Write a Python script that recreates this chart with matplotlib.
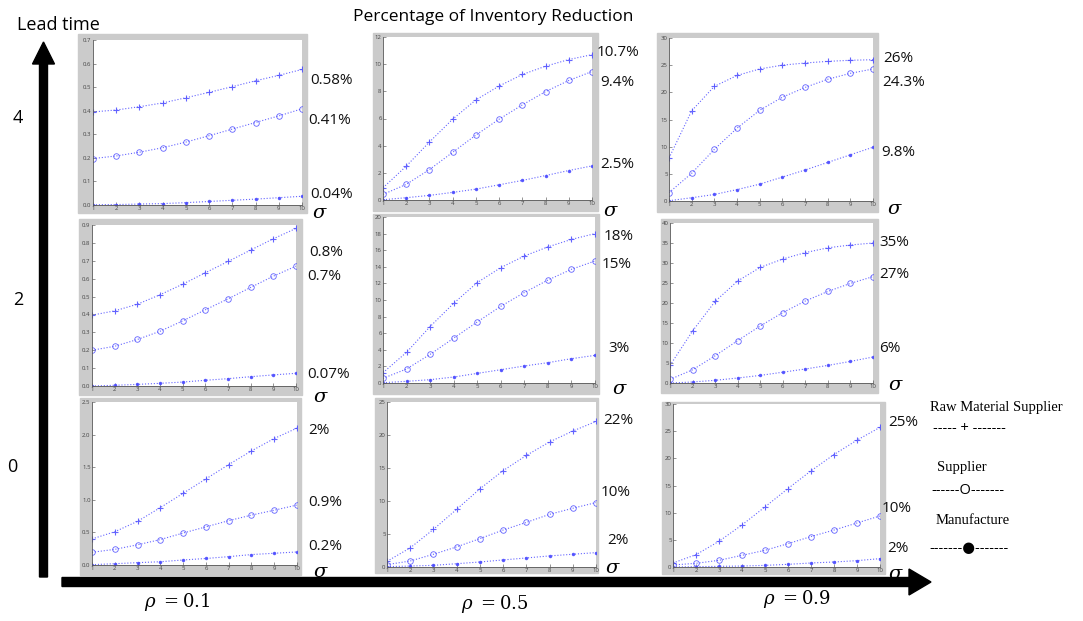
import matplotlib
matplotlib.use('Agg')
import matplotlib.pyplot as plt
from matplotlib.patches import Rectangle, FancyArrow

plt.rcParams['font.family'] = ['Open Sans', 'DejaVu Sans']
plt.rcParams['mathtext.fontset'] = 'dejavuserif'

W, H = 1083, 621

sigma = [1, 2, 3, 4, 5, 6, 7, 8, 9, 10]

# lead time 4
raw_4_01 = [0.395, 0.403, 0.417, 0.433, 0.455, 0.478, 0.502, 0.527, 0.550, 0.575]
sup_4_01 = [0.197, 0.208, 0.224, 0.243, 0.267, 0.294, 0.322, 0.350, 0.378, 0.408]
man_4_01 = [0.001, 0.002, 0.004, 0.006, 0.010, 0.015, 0.020, 0.025, 0.031, 0.037]
raw_4_05 = [0.9, 2.49, 4.27, 5.95, 7.37, 8.39, 9.24, 9.85, 10.34, 10.7]
sup_4_05 = [0.41, 1.15, 2.24, 3.51, 4.78, 5.95, 7.0, 7.98, 8.8, 9.46]
man_4_05 = [0.02, 0.17, 0.34, 0.56, 0.8, 1.12, 1.44, 1.8, 2.17, 2.51]
raw_4_09 = [7.9, 16.6, 21.1, 23.1, 24.3, 25.0, 25.4, 25.7, 25.9, 26.0]
sup_4_09 = [1.54, 5.1, 9.5, 13.4, 16.7, 19.1, 20.9, 22.4, 23.5, 24.3]
man_4_09 = [0.05, 0.6, 1.2, 2.1, 3.1, 4.4, 5.7, 7.1, 8.5, 9.9]
# lead time 2
raw_2_01 = [0.396, 0.42, 0.457, 0.51, 0.569, 0.633, 0.696, 0.76, 0.823, 0.881]
sup_2_01 = [0.2, 0.222, 0.26, 0.306, 0.364, 0.426, 0.487, 0.551, 0.614, 0.67]
man_2_01 = [0.0, 0.004, 0.009, 0.015, 0.022, 0.032, 0.041, 0.052, 0.062, 0.071]
raw_2_05 = [1.24, 3.7, 6.8, 9.6, 12.1, 13.9, 15.3, 16.4, 17.3, 18.0]
sup_2_05 = [0.56, 1.69, 3.45, 5.4, 7.35, 9.24, 10.9, 12.4, 13.7, 14.7]
man_2_05 = [0.04, 0.2, 0.4, 0.72, 1.16, 1.6, 2.05, 2.45, 2.93, 3.33]
raw_2_09 = [4.4, 13.0, 20.4, 25.5, 28.9, 31.0, 32.6, 33.8, 34.5, 35.0]
sup_2_09 = [0.9, 3.3, 6.8, 10.6, 14.25, 17.6, 20.5, 22.9, 24.9, 26.6]
man_2_09 = [0.0, 0.25, 0.67, 1.25, 1.9, 2.7, 3.5, 4.4, 5.4, 6.5]
# lead time 0
raw_0_01 = [0.4, 0.51, 0.67, 0.88, 1.1, 1.32, 1.54, 1.75, 1.94, 2.1]
sup_0_01 = [0.195, 0.24, 0.31, 0.39, 0.49, 0.585, 0.68, 0.765, 0.84, 0.92]
man_0_01 = [0.005, 0.02, 0.036, 0.05, 0.077, 0.1, 0.128, 0.16, 0.18, 0.2]
raw_0_05 = [0.86, 2.9, 5.7, 8.74, 11.84, 14.6, 16.9, 18.95, 20.6, 22.05]
sup_0_05 = [0.36, 0.91, 1.93, 3.05, 4.3, 5.6, 6.76, 7.98, 8.9, 9.76]
man_0_05 = [0.05, 0.15, 0.25, 0.5, 0.76, 1.07, 1.37, 1.68, 1.93, 2.18]
raw_0_09 = [0.74, 2.27, 4.73, 7.74, 11.06, 14.44, 17.7, 20.7, 23.35, 25.7]
sup_0_09 = [0.37, 0.68, 1.23, 2.15, 3.07, 4.3, 5.6, 6.8, 8.1, 9.4]
man_0_09 = [0.0, 0.06, 0.12, 0.18, 0.3, 0.49, 0.74, 0.92, 1.17, 1.54]

pct_labels = [
    ['0.58%', '0.41%', '0.04%'], ['10.7%', '9.4%', '2.5%'], ['26%', '24.3%', '9.8%'],
    ['0.8%', '0.7%', '0.07%'], ['18%', '15%', '3%'], ['35%', '27%', '6%'],
    ['2%', '0.9%', '0.2%'], ['22%', '10%', '2%'], ['25%', '10%', '2%'],
]
lead_times = ['4', '2', '0']
rho_labels = [r'$\rho\ =0.1$', r'$\rho\ =0.5$', r'$\rho\ =0.9$']

series = [
    (raw_4_01, sup_4_01, man_4_01), (raw_4_05, sup_4_05, man_4_05), (raw_4_09, sup_4_09, man_4_09),
    (raw_2_01, sup_2_01, man_2_01), (raw_2_05, sup_2_05, man_2_05), (raw_2_09, sup_2_09, man_2_09),
    (raw_0_01, sup_0_01, man_0_01), (raw_0_05, sup_0_05, man_0_05), (raw_0_09, sup_0_09, man_0_09),
]
# y-axis top and tick step per panel
ytop = [0.7, 12, 30, 0.9, 20, 40, 2.5, 25, 30]
ystep = [0.1, 2, 5, 0.1, 2, 5, 0.5, 5, 5]

# layout in pixels: gray frame, white axes, label positions
frames = [(78, 34, 307, 213), (373, 33, 598, 211), (657, 33, 878, 212),
          (79, 219, 302, 395), (373, 214, 599, 394), (661, 219, 878, 393),
          (80, 398, 301, 575), (375, 398, 598, 573), (662, 402, 885, 574)]
boxes = [(93, 40, 302, 205), (383, 37, 592, 200), (669, 38, 873, 201),
         (92, 225, 296, 386), (383, 217, 595, 383), (670, 223, 873, 383),
         (92, 402, 297, 565), (387, 402, 596, 567), (673, 404, 880, 567)]
lab_pos = [[(310, 80), (308, 120), (310, 194)],
           [(597, 52), (600, 82), (600, 165)],
           [(883, 59), (882, 82), (881, 153)],
           [(309, 253), (307, 277), (307, 374)],
           [(604, 236), (602, 265), (608, 348)],
           [(879, 242), (879, 275), (879, 349)],
           [(308, 430), (308, 503), (308, 547)],
           [(603, 421), (601, 493), (607, 540)],
           [(888, 422), (882, 508), (887, 549)]]
sig_pos = [(312, 213), (603, 211), (887, 209), (313, 397), (612, 389), (888, 385),
           (313, 572), (605, 568), (888, 574)]

blue = '#4a4aff'

fig = plt.figure(figsize=(W / 100, H / 100), dpi=100, facecolor='w')
ov = fig.add_axes([0, 0, 1, 1])
ov.set_xlim(0, W)
ov.set_ylim(H, 0)
ov.axis('off')

for k in range(9):
    fx0, fy0, fx1, fy1 = frames[k]
    ov.add_patch(Rectangle((fx0, fy0), fx1 - fx0, fy1 - fy0, color='#cbcbcb', zorder=0))
    x0, y0, x1, y1 = boxes[k]
    ax = fig.add_axes([x0 / W, 1 - y1 / H, (x1 - x0) / W, (y1 - y0) / H])
    raw, sup, man = series[k]
    ax.plot(sigma, raw, ':', color=blue, lw=0.8, marker='+', ms=4, mew=0.8, mec=blue, alpha=0.85)
    ax.plot(sigma, sup, ':', color=blue, lw=0.8, marker='o', ms=4, mew=0.6, mfc='none', mec=blue, alpha=0.85)
    ax.plot(sigma, man, ':', color=blue, lw=0.8, marker='.', ms=3, mec=blue, alpha=0.85)
    ax.set_xlim(1, 10)
    ax.set_ylim(0, ytop[k])
    ax.set_xticks(sigma)
    n = int(round(ytop[k] / ystep[k]))
    ax.set_yticks([round(i * ystep[k], 2) for i in range(n + 1)])
    ax.tick_params(direction='in', length=2, width=0.4, labelsize=4.3, pad=1, colors='#444444')
    for s in ['top', 'right']:
        ax.spines[s].set_visible(False)
    for s in ['left', 'bottom']:
        ax.spines[s].set_color('#555555')
        ax.spines[s].set_linewidth(0.6)
    for t, (tx, ty) in zip(pct_labels[k], lab_pos[k]):
        ov.text(tx, ty, t, fontsize=11, ha='left', va='center', color='#111111')
    ov.text(sig_pos[k][0], sig_pos[k][1], r'$\sigma$', fontsize=14, ha='left', va='center')

# axes arrows
ov.add_patch(FancyArrow(43.5, 577, 0, -535, width=8, head_width=22, head_length=22,
                        length_includes_head=True, color='black'))
ov.add_patch(FancyArrow(62, 582, 869, 0, width=9, head_width=26, head_length=22,
                        length_includes_head=True, color='black'))

ov.text(17, 25, 'Lead time', fontsize=13, ha='left', va='center')
ov.text(493, 17, 'Percentage of Inventory Reduction', fontsize=12.5, ha='center', va='center')
for t, (tx, ty) in zip(lead_times, [(18, 118), (18, 300), (12, 467)]):
    ov.text(tx, ty, t, fontsize=13, ha='center', va='center')
for t, (tx, ty) in zip(rho_labels, [(177, 602), (495, 604), (797, 599)]):
    ov.text(tx, ty, t, fontsize=13, ha='center', va='center')

# legend written as text
ov.text(930, 407, 'Raw Material Supplier', fontsize=10.5, family='Liberation Serif', va='center')
ov.text(933, 429, '----- + -------', fontsize=10.5, va='center')
ov.text(937, 468, 'Supplier', fontsize=10.5, family='Liberation Serif', va='center')
ov.text(931, 490, '------O-------', fontsize=10.5, va='center')
ov.text(936, 521, 'Manufacture', fontsize=10.5, family='Liberation Serif', va='center')
ov.text(929, 549, '-------\u25cf-------', fontsize=10.5, va='center', family=['Open Sans', 'DejaVu Sans'])

fig.savefig('out.png', dpi=100)
